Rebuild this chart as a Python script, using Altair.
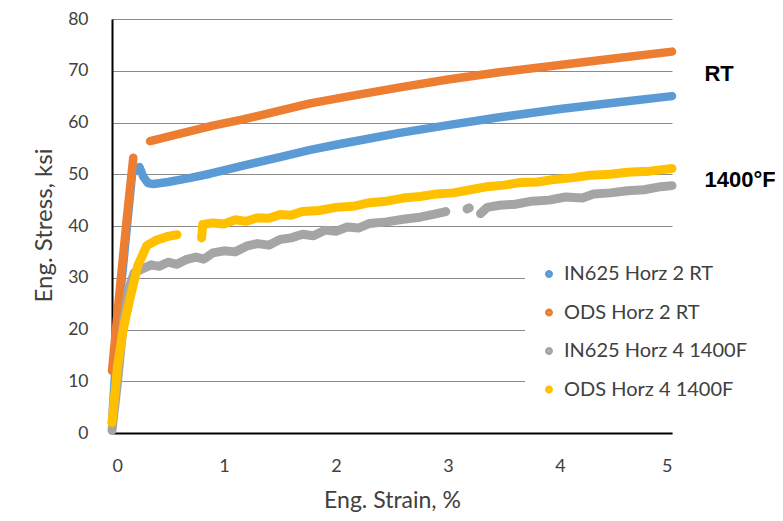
import altair as alt
import pandas as pd

# ---------------- data ----------------
series_names = ["IN625 Horz 2 RT", "ODS Horz 2 RT", "IN625 Horz 4 1400F", "ODS Horz 4 1400F"]
series_colors = ["#5B9BD5", "#ED7D31", "#A5A5A5", "#FFC000"]

# IN625 Horz 2 RT (blue)
in625_rt_strain = [0.0, 0.07, 0.18, 0.245, 0.28, 0.32, 0.37, 0.5, 0.7, 0.875, 1.2, 1.5, 1.77, 2.0, 2.3,
                   2.57, 3.0, 3.46, 4.0, 4.27, 4.6, 5.0]
in625_rt_stress = [2, 26, 50.2, 51.4, 49.5, 48.3, 48.1, 48.5, 49.3, 50.1, 51.8, 53.3, 54.7, 55.7, 56.9,
                   58.0, 59.5, 61.0, 62.6, 63.3, 64.1, 65.1]
in625_rt_seg = [0] * 22

# ODS Horz 2 RT (orange)
ods_rt_strain = [0.0, 0.07, 0.13, 0.19,
                 0.34, 0.6, 0.9, 1.17, 1.5, 1.77, 2.1, 2.57, 3.0, 3.46, 4.0, 4.5, 5.0]
ods_rt_stress = [12, 27.8, 41, 53.2,
                 56.4, 57.8, 59.4, 60.6, 62.3, 63.7, 65.0, 66.8, 68.3, 69.7, 71.1, 72.4, 73.7]
ods_rt_seg = [0, 0, 0, 0,
              1, 1, 1, 1, 1, 1, 1, 1, 1, 1, 1, 1, 1]

# IN625 Horz 4 1400F (grey)
in625_hot_strain = [0.0, 0.05, 0.1, 0.15, 0.2, 0.28, 0.35, 0.42, 0.5, 0.58, 0.66, 0.75, 0.82, 0.9, 1.0,
                    1.1, 1.2, 1.3, 1.4, 1.5, 1.6, 1.7, 1.8, 1.9, 2.0, 2.1, 2.2, 2.3, 2.45, 2.6, 2.75,
                    2.88, 2.98,
                    3.17, 3.19,
                    3.29, 3.35, 3.46, 3.6, 3.75, 3.9, 4.05, 4.2, 4.3, 4.45, 4.6, 4.75, 4.9, 5.0]
in625_hot_stress = [0.5, 10, 21, 28, 31, 31.8, 32.5, 32.2, 33.0, 32.6, 33.5, 34.0, 33.6, 34.8, 35.2,
                    35.0, 36.1, 36.6, 36.3, 37.4, 37.7, 38.4, 38.1, 39.2, 39.0, 39.8, 39.6, 40.5, 40.8,
                    41.3, 41.7, 42.3, 42.8,
                    43.3, 43.5,
                    42.4, 43.6, 44.0, 44.2, 44.8, 45.0, 45.6, 45.4, 46.2, 46.4, 46.8, 47.0, 47.6, 47.8]
in625_hot_seg = [0] * 33 + [1] * 2 + [2] * 14

# ODS Horz 4 1400F (yellow)
ods_hot_strain = [0.0, 0.05, 0.1, 0.16, 0.23, 0.31, 0.4, 0.5, 0.58,
                  0.8, 0.81, 0.9, 1.0, 1.1, 1.2, 1.3, 1.4, 1.5, 1.6, 1.7, 1.85, 2.0, 2.15, 2.3, 2.45,
                  2.6, 2.75, 2.9, 3.05, 3.2, 3.35, 3.5, 3.65, 3.8, 3.95, 4.1, 4.27, 4.45, 4.6, 4.8, 5.0]
ods_hot_stress = [2, 13, 20, 26, 32.3, 36.2, 37.3, 38.0, 38.3,
                  37.7, 40.3, 40.6, 40.4, 41.2, 40.9, 41.6, 41.5, 42.2, 42.1, 42.8, 43.0, 43.6, 43.8,
                  44.5, 44.8, 45.4, 45.7, 46.2, 46.4, 47.0, 47.6, 47.9, 48.4, 48.5, 49.0, 49.3, 49.8,
                  50.0, 50.4, 50.6, 51.1]
ods_hot_seg = [0] * 9 + [1] * 32

# annotations
note_labels = ["RT", "1400\u00b0F"]
note_strain = [5.29, 5.29]
note_stress = [69.3, 48.8]

# ---------------- build table ----------------
rows = []
for name, xs, ys, ss in [
    (series_names[0], in625_rt_strain, in625_rt_stress, in625_rt_seg),
    (series_names[1], ods_rt_strain, ods_rt_stress, ods_rt_seg),
    (series_names[2], in625_hot_strain, in625_hot_stress, in625_hot_seg),
    (series_names[3], ods_hot_strain, ods_hot_stress, ods_hot_seg),
]:
    for i, (x, y, s) in enumerate(zip(xs, ys, ss)):
        rows.append({"series": name, "strain": x, "stress": y, "seg": s, "idx": i})
df = pd.DataFrame(rows)
notes = pd.DataFrame({"label": note_labels, "strain": note_strain, "stress": note_stress})

FONT = "Lato"
TXT = "#404040"

x_scale = alt.Scale(domain=[0, 5], nice=False, zero=False)
y_scale = alt.Scale(domain=[0, 80], nice=False, zero=False)

x_axis = alt.Axis(
    values=[0, 1, 2, 3, 4, 5], format="d", title="Eng. Strain, %", grid=False,
    domainColor="black", domainWidth=2, ticks=False, tickSize=0,
    labelFont=FONT, labelFontSize=18, labelColor=TXT, labelPadding=24,
    titleFont=FONT, titleFontSize=23, titleFontWeight="normal", titleColor=TXT,
    titleBaseline="alphabetic", titleY=74,
)
y_axis = alt.Axis(
    values=[0, 10, 20, 30, 40, 50, 60, 70, 80], format="d", title="Eng. Stress, ksi", grid=True,
    gridColor="#8a8a8a", gridWidth=1.2,
    domainColor="black", domainWidth=2, ticks=False, tickSize=0,
    labelFont=FONT, labelFontSize=17.5, labelColor=TXT, labelPadding=24,
    titleFont=FONT, titleFontSize=24, titleFontWeight="normal", titleColor=TXT,
    titleX=-68, titleY=206, titleAlign="center", titleBaseline="middle", titleAngle=270,
)
x_enc = alt.X("strain:Q", scale=x_scale, axis=x_axis)
y_enc = alt.Y("stress:Q", scale=y_scale, axis=y_axis)

color_enc = alt.Color(
    "series:N",
    scale=alt.Scale(domain=series_names, range=series_colors),
    legend=alt.Legend(
        title=None, orient="none", legendX=413, legendY=231, padding=14,
        fillColor="white", rowPadding=16.5, symbolType="circle", symbolSize=12,
        symbolStrokeWidth=4.5, labelFont=FONT, labelFontSize=20, labelColor=TXT,
        labelOffset=5, symbolOffset=0, labelLimit=400,
    ),
)

layers = []
for name, w in zip(series_names, [8.5, 8.5, 9, 9]):
    layers.append(
        alt.Chart(df)
        .transform_filter(alt.datum.series == name)
        .mark_line(strokeWidth=w, strokeCap="round", strokeJoin="round")
        .encode(x=x_enc, y=y_enc, color=color_enc, detail="seg:N", order="idx:Q")
    )

text_layer = alt.Chart(notes).mark_text(
    font="Liberation Sans", fontWeight="bold", fontSize=22, align="left", baseline="middle",
    color="black",
).encode(x=x_enc, y=y_enc, text="label:N")

chart = (
    alt.layer(*layers, text_layer)
    .properties(
        width=560, height=414,
        autosize=alt.AutoSizeParams(type="none"),
        padding={"left": 104, "top": 11, "right": 103, "bottom": 79},
        background="white",
    )
    .configure_view(stroke=None)
)

chart.save("out.html", embed_options={"renderer": "svg", "actions": False})
